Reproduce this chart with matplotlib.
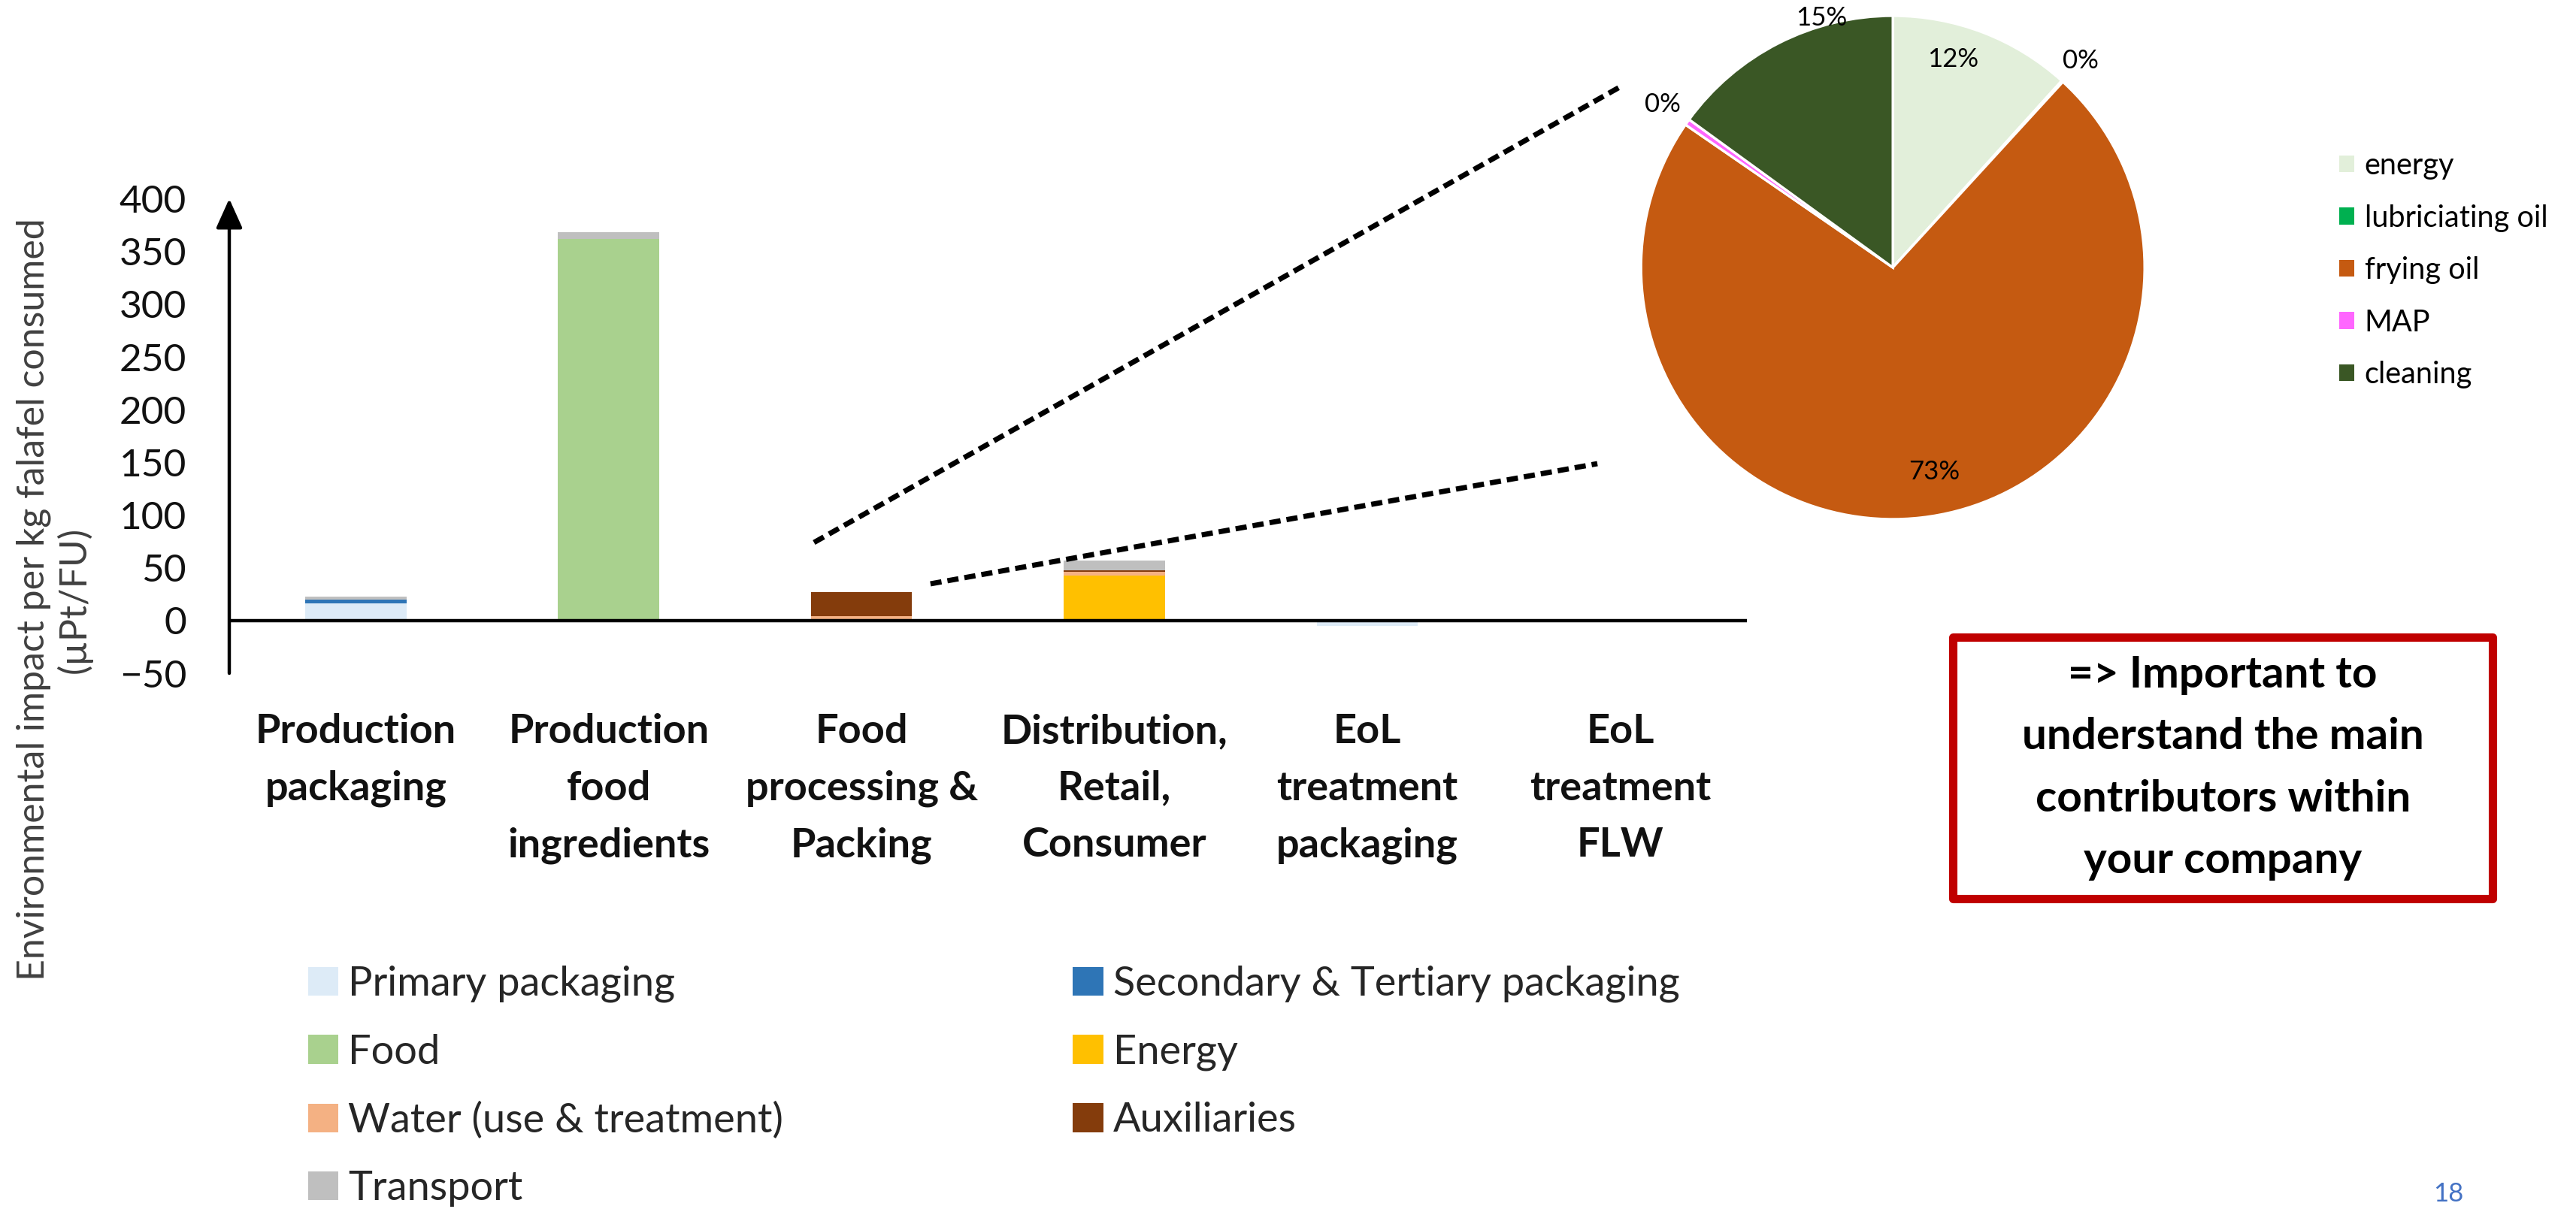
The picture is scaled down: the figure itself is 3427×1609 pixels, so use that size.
import numpy as np
import matplotlib.pyplot as plt
from matplotlib.patches import Patch, Rectangle
from matplotlib.lines import Line2D

plt.rcParams['font.family'] = ['Lato', 'DejaVu Sans']

# life cycle stages (x categories)
stages = ["Production\npackaging", "Production\nfood\ningredients",
          "Food\nprocessing &\nPacking", "Distribution,\nRetail,\nConsumer",
          "EoL\ntreatment\npackaging", "EoL\ntreatment\nFLW"]

# stacked contributions (µPt/FU)
primary = [16, 0, 0, 0, -5, 0]
secondary = [4, 0, 0, 0, 0, 0]
food = [0, 362, 0, 0, 0, 0]
energy = [0, 0, 0, 42.5, 0, 0]
water = [0, 0, 4.3, 3.5, 0, 0]
auxiliaries = [0, 0, 22.6, 2, 0, 0]
transport = [3, 6.5, 0, 9, 0, 0]

series_names = ["Primary packaging", "Secondary & Tertiary packaging", "Food",
                "Energy", "Water (use & treatment)", "Auxiliaries", "Transport"]
series_values = [primary, secondary, food, energy, water, auxiliaries, transport]
series_colors = ['#DDEBF7', '#2E75B6', '#A9D18E', '#FFC000', '#F4B183',
                 '#843C0C', '#BFBFBF']

# breakdown of food processing & packing (%)
pie_labels = ["energy", "lubriciating oil", "frying oil", "MAP", "cleaning"]
pie_values = [11.7, 0.1, 72.8, 0.4, 15.0]
pie_colors = ['#E2EFDA', '#00B050', '#C55A11', '#FF66FF', '#3A5725']

fig = plt.figure(figsize=(17.135, 8.045), dpi=200)

# --- stacked bar chart
ax = fig.add_axes([0.0890, 0.4431, 0.5891, 0.3925])
x = np.arange(len(stages))
pos_bottom = np.zeros(len(stages))
neg_bottom = np.zeros(len(stages))
for name, vals, col in zip(series_names, series_values, series_colors):
    vals = np.array(vals, dtype=float)
    bottom = np.where(vals >= 0, pos_bottom, neg_bottom)
    ax.bar(x, vals, 0.4, bottom=bottom, color=col, linewidth=0, label=name)
    pos_bottom += np.clip(vals, 0, None)
    neg_bottom += np.clip(vals, None, 0)

ax.set_xlim(-0.5, 5.5)
ax.set_ylim(-50, 400)
for s in ax.spines.values():
    s.set_visible(False)
ax.axhline(0, color='black', lw=1.6, zorder=3)
ax.annotate('', xy=(0, 1), xytext=(0, 0), xycoords='axes fraction',
            arrowprops=dict(arrowstyle='-|>,head_length=0.6,head_width=0.27',
                            mutation_scale=20, lw=1.6, color='black',
                            shrinkA=0, shrinkB=0),
            annotation_clip=False)

ax.set_yticks(np.arange(-50, 401, 50))
ax.tick_params(axis='y', length=0, pad=20.5, labelsize=18.5, labelcolor='#111111')
ax.set_xticks(x, stages, fontsize=19.5, fontweight='bold', color='#111111')
ax.tick_params(axis='x', length=0, pad=19)
for lab in ax.get_xticklabels():
    lab.set_linespacing(1.67)

fig.text(0.021, 0.5040,
         "Environmental impact per kg falafel consumed\n(\u00b5Pt/FU)",
         rotation=90, ha='center', va='center', fontsize=18,
         color='#404040', linespacing=1.15)

# bar legend, row-major order in two columns
order = [0, 2, 4, 6, 1, 3, 5]
bar_handles = [Patch(facecolor=series_colors[i]) for i in order]
fig.legend(bar_handles, [series_names[i] for i in order], ncol=2,
           loc='upper left', bbox_to_anchor=(0.1196, 0.2014), frameon=False,
           fontsize=19.5, handlelength=0.75, handleheight=0.72,
           handletextpad=0.24, columnspacing=7.1, labelspacing=0.76,
           borderpad=0, borderaxespad=0, labelcolor='#262626')

# --- pie chart
pax = fig.add_axes([0.6077, 0.5081, 0.2542, 0.5413])
wedges, texts, autotexts = pax.pie(
    pie_values, colors=pie_colors, startangle=90, counterclock=False,
    autopct='%.0f%%', wedgeprops=dict(edgecolor='white', linewidth=1.2),
    textprops=dict(fontsize=12.5, color='black'))
pax.set_xlim(-1.3, 1.3)
pax.set_ylim(-1.3, 1.3)

label_dist = [0.86, 1.11, 0.83, 1.12, 1.03]
label_shift = [5, 0, 5, 0, -11]
for w, t, d, sh in zip(wedges, autotexts, label_dist, label_shift):
    ang = np.deg2rad((w.theta1 + w.theta2) / 2 + sh)
    t.set_position((d * np.cos(ang), d * np.sin(ang)))
    t.set_ha('center')
    t.set_va('center')

fig.legend([Patch(facecolor=c) for c in pie_colors], pie_labels,
           loc='upper left', bbox_to_anchor=(0.9081, 0.8745), frameon=False,
           fontsize=14.3, handlelength=0.5, handleheight=0.5,
           handletextpad=0.35, labelspacing=0.82, borderpad=0,
           borderaxespad=0)

# zoom lines from the processing bar to the pie
dash = dict(transform=fig.transFigure, color='black', lw=2.5,
            ls=(0, (2.15, 1.15)))
fig.add_artist(Line2D([0.3160, 0.6303], [0.5513, 0.9298], **dash))
fig.add_artist(Line2D([0.3612, 0.6201], [0.5171, 0.6165], **dash))

# message box
fig.add_artist(Rectangle((0.7581, 0.2567), 0.2095, 0.2163,
                         transform=fig.transFigure, facecolor='white',
                         edgecolor='#C00000', lw=4, joinstyle='round'))
fig.text(0.8629, 0.3648,
         "=> Important to\nunderstand the main\ncontributors within\nyour company",
         ha='center', va='center', fontsize=21, fontweight='bold',
         color='black', linespacing=1.68)

fig.text(0.9504, 0.0124, "18", ha='center', va='center', fontsize=12.5,
         color='#4472C4')

fig.savefig('out.png', dpi=200, facecolor='white')
